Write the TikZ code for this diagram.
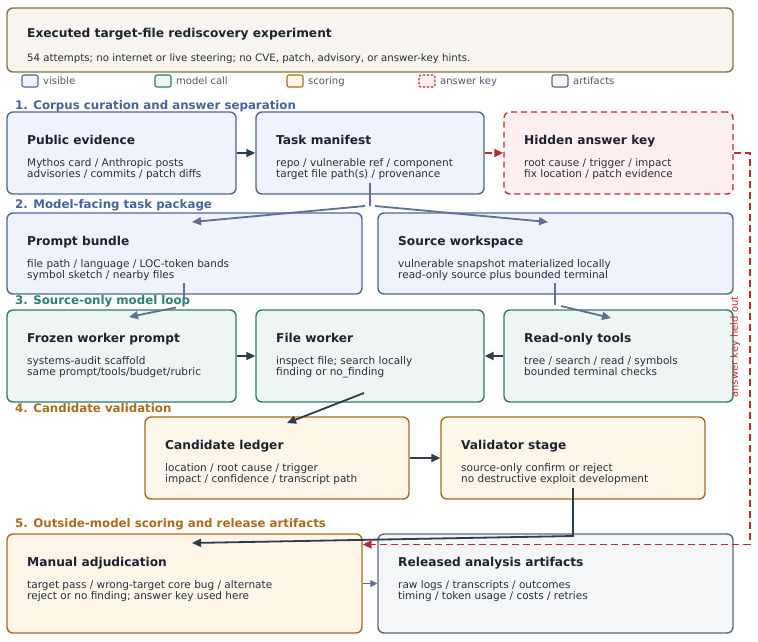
\documentclass[tikz,border=0pt]{standalone}
\usepackage{fontspec}
\setmainfont{DejaVu Sans}
\usetikzlibrary{arrows.meta,fit}
\definecolor{ink}{HTML}{1B2333}
\definecolor{ink2}{HTML}{262F3E}
\definecolor{bstroke}{HTML}{4D6A94}
\definecolor{bfill}{HTML}{EFF3FB}
\definecolor{tstroke}{HTML}{2E7B6D}
\definecolor{tfill}{HTML}{EDF6F3}
\definecolor{ostroke}{HTML}{A86C1E}
\definecolor{ofill}{HTML}{FDF6E9}
\definecolor{rstroke}{HTML}{BB2A33}
\definecolor{rfill}{HTML}{FDEFF0}
\definecolor{gstroke}{HTML}{5C677B}
\definecolor{gfill}{HTML}{F5F6F8}
\definecolor{hstroke}{HTML}{857447}
\definecolor{hfill}{HTML}{F8F5EE}
\definecolor{dark}{HTML}{2F3B4F}
\definecolor{slate}{HTML}{5F7090}
\definecolor{secblue}{HTML}{45649A}
\definecolor{secteal}{HTML}{2E7F70}
\definecolor{secor}{HTML}{A86C1E}
\definecolor{lgtext}{HTML}{4A5568}
\tikzset{
  bx/.style={draw, rounded corners=6pt, line width=1.4pt, inner sep=0pt},
  blu/.style={bx, draw=bstroke, fill=bfill},
  tea/.style={bx, draw=tstroke, fill=tfill},
  ora/.style={bx, draw=ostroke, fill=ofill},
  rdd/.style={bx, draw=rstroke, fill=rfill, dash pattern=on 6pt off 4pt},
  gry/.style={bx, draw=gstroke, fill=gfill},
  hdr/.style={bx, draw=hstroke, fill=hfill},
  lgb/.style={rounded corners=2pt, line width=1.1pt, inner sep=0pt},
  ttl/.style={anchor=base west, inner sep=0pt, font=\bfseries\fontsize{12.2}{14}\selectfont, text=ink},
  bod/.style={anchor=base west, inner sep=0pt, font=\fontsize{10.5}{12}\selectfont, text=ink2},
  lgt/.style={anchor=base west, inner sep=0pt, font=\fontsize{10}{12}\selectfont, text=lgtext},
  sec/.style={anchor=base west, inner sep=0pt, font=\bfseries\fontsize{11.8}{13}\selectfont},
  arrd/.style={line width=1.8pt, draw=dark, -{Triangle[length=9pt,width=8pt]}},
  arrs/.style={line width=1.8pt, draw=slate, -{Triangle[length=9pt,width=8pt]}},
  arrr/.style={line width=1.8pt, draw=rstroke, dash pattern=on 7pt off 4pt, -{Triangle[length=9pt,width=8pt]}},
}
\newcommand\card[9]{%
  \node[#2, fit={(#3,#4)(#5,#6)}] (#1) {};
  \node[ttl] (#1t) at (#3+20,#4+32) {#7};
  \node[bod] (#1a) at (#3+20,#4+54) {#8};
  \node[bod] (#1b) at (#3+20,#4+65.3) {#9};
}
\begin{document}
\begin{tikzpicture}[x=1pt,y=-1pt]
\useasboundingbox (0,0) rectangle (758,641);
% header
\node[hdr, fit={(7,8)(733,72)}] (hd) {};
\node[ttl] (hdt) at (27,37.5) {Executed target-file rediscovery experiment};
\node[bod, font=\fontsize{10.2}{12}\selectfont] (hds) at (27,61) {54 attempts; no internet or live steering; no CVE, patch, advisory, or answer-key hints.};
% legend
\node[lgb, draw=bstroke, fill=bfill, fit={(22,75)(38,87)}] (lg1) {};
\node[lgt] (lg1t) at (43,84.5) {visible};
\node[lgb, draw=tstroke, fill=tfill, fit={(155,75)(171,87)}] (lg2) {};
\node[lgt] (lg2t) at (176,84.5) {model call};
\node[lgb, draw=ostroke, fill=ofill, fit={(287,75)(303,87)}] (lg3) {};
\node[lgt] (lg3t) at (308,84.5) {scoring};
\node[lgb, draw=rstroke, fill=rfill, dash pattern=on 2.5pt off 1.5pt, fit={(419,75)(435,87)}] (lg4) {};
\node[lgt] (lg4t) at (440,84.5) {answer key};
\node[lgb, draw=gstroke, fill=gfill, fit={(552,75)(568,87)}] (lg5) {};
\node[lgt] (lg5t) at (573,84.5) {artifacts};
% section labels
\node[sec, text=secblue] (s1) at (15,109) {1. Corpus curation and answer separation};
\node[sec, text=secblue] (s2) at (15,208.5) {2. Model-facing task package};
\node[sec, text=secteal] (s3) at (15,304.5) {3. Source-only model loop};
\node[sec, text=secor] (s4) at (15,412.5) {4. Candidate validation};
\node[sec, text=secor] (s5) at (15,527) {5. Outside-model scoring and release artifacts};
% row 1
\card{pe}{blu}{7}{112}{236}{194}{Public evidence}{Mythos card / Anthropic posts}{advisories / commits / patch diffs}
\card{tm}{blu}{256}{112}{484}{194}{Task manifest}{repo / vulnerable ref / component}{target file path(s) / provenance}
\card{hk}{rdd}{504}{112}{733}{194}{Hidden answer key}{root cause / trigger / impact}{fix location / patch evidence}
% row 2
\card{pb}{blu}{7}{213}{362}{294}{Prompt bundle}{file path / language / LOC-token bands}{symbol sketch / nearby files}
\card{sw}{blu}{378}{213}{733}{294}{Source workspace}{vulnerable snapshot materialized locally}{read-only source plus bounded terminal}
% row 3
\card{fp}{tea}{7}{310}{236}{402}{Frozen worker prompt}{systems-audit scaffold}{same prompt/tools/budget/rubric}
\card{fw}{tea}{256}{310}{484}{402}{File worker}{inspect file; search locally}{finding or no\_finding}
\card{ro}{tea}{504}{310}{733}{402}{Read-only tools}{tree / search / read / symbols}{bounded terminal checks}
% row 4
\card{cl}{ora}{145}{417}{409}{499}{Candidate ledger}{location / root cause / trigger}{impact / confidence / transcript path}
\card{vs}{ora}{441}{417}{705}{499}{Validator stage}{source-only confirm or reject}{no destructive exploit development}
% row 5
\card{ma}{ora}{7}{534}{362}{633}{Manual adjudication}{target pass / wrong-target core bug / alternate}{reject or no finding; answer key used here}
\card{ra}{gry}{378}{534}{733}{633}{Released analysis artifacts}{raw logs / transcripts / outcomes}{timing / token usage / costs / retries}
% connectors
\coordinate (tmsplit) at (370,206);
\coordinate (pbin) at (192,222);
\coordinate (swin) at (548,222);
\draw[line width=1.8pt, slate] (370,183) -- (tmsplit);
\draw[arrs] (365,206) -- (pbin);
\draw[arrs] (375,206) -- (swin);
\draw[arrd] (pe.east) -- (tm.west);
\draw[arrr] (tm.east) -- (hk.west);
\coordinate (pbout) at (184,283);
\coordinate (fpin) at (129,317);
\draw[line width=1.8pt, slate] (pbout) -- (184,300);
\draw[arrs] (176,307.5) -- (fpin);
\coordinate (swout) at (555,283);
\coordinate (roin) at (611,318);
\draw[line width=1.8pt, slate] (swout) -- (555,305);
\draw[arrs] (561,306) -- (roin);
\draw[arrd] (fp.east) -- (fw.west);
\draw[arrd] (ro.west) -- (fw.east);
\coordinate (fwout) at (364,393);
\coordinate (clin) at (287,423);
\draw[arrd] (fwout) -- (clin);
\draw[arrd] (cl.east) -- (vs.west);
\coordinate (vsout) at (573,488);
\coordinate (main) at (192,543);
\draw[arrd] (vsout) -- (573,536) -- (main);
\draw[arrr] (hk.east) -- ++(16,0) |- ([yshift=39pt]ma.east);
\draw[line width=1.5pt, draw=slate, -{Triangle[length=7pt,width=7pt]}] (ma.east) -- (ra.west);
\node[rotate=90, inner sep=0pt, font=\fontsize{10}{12}\selectfont, text=rstroke] (hl) at (735,347) {answer key held out};
\end{tikzpicture}
\end{document}
